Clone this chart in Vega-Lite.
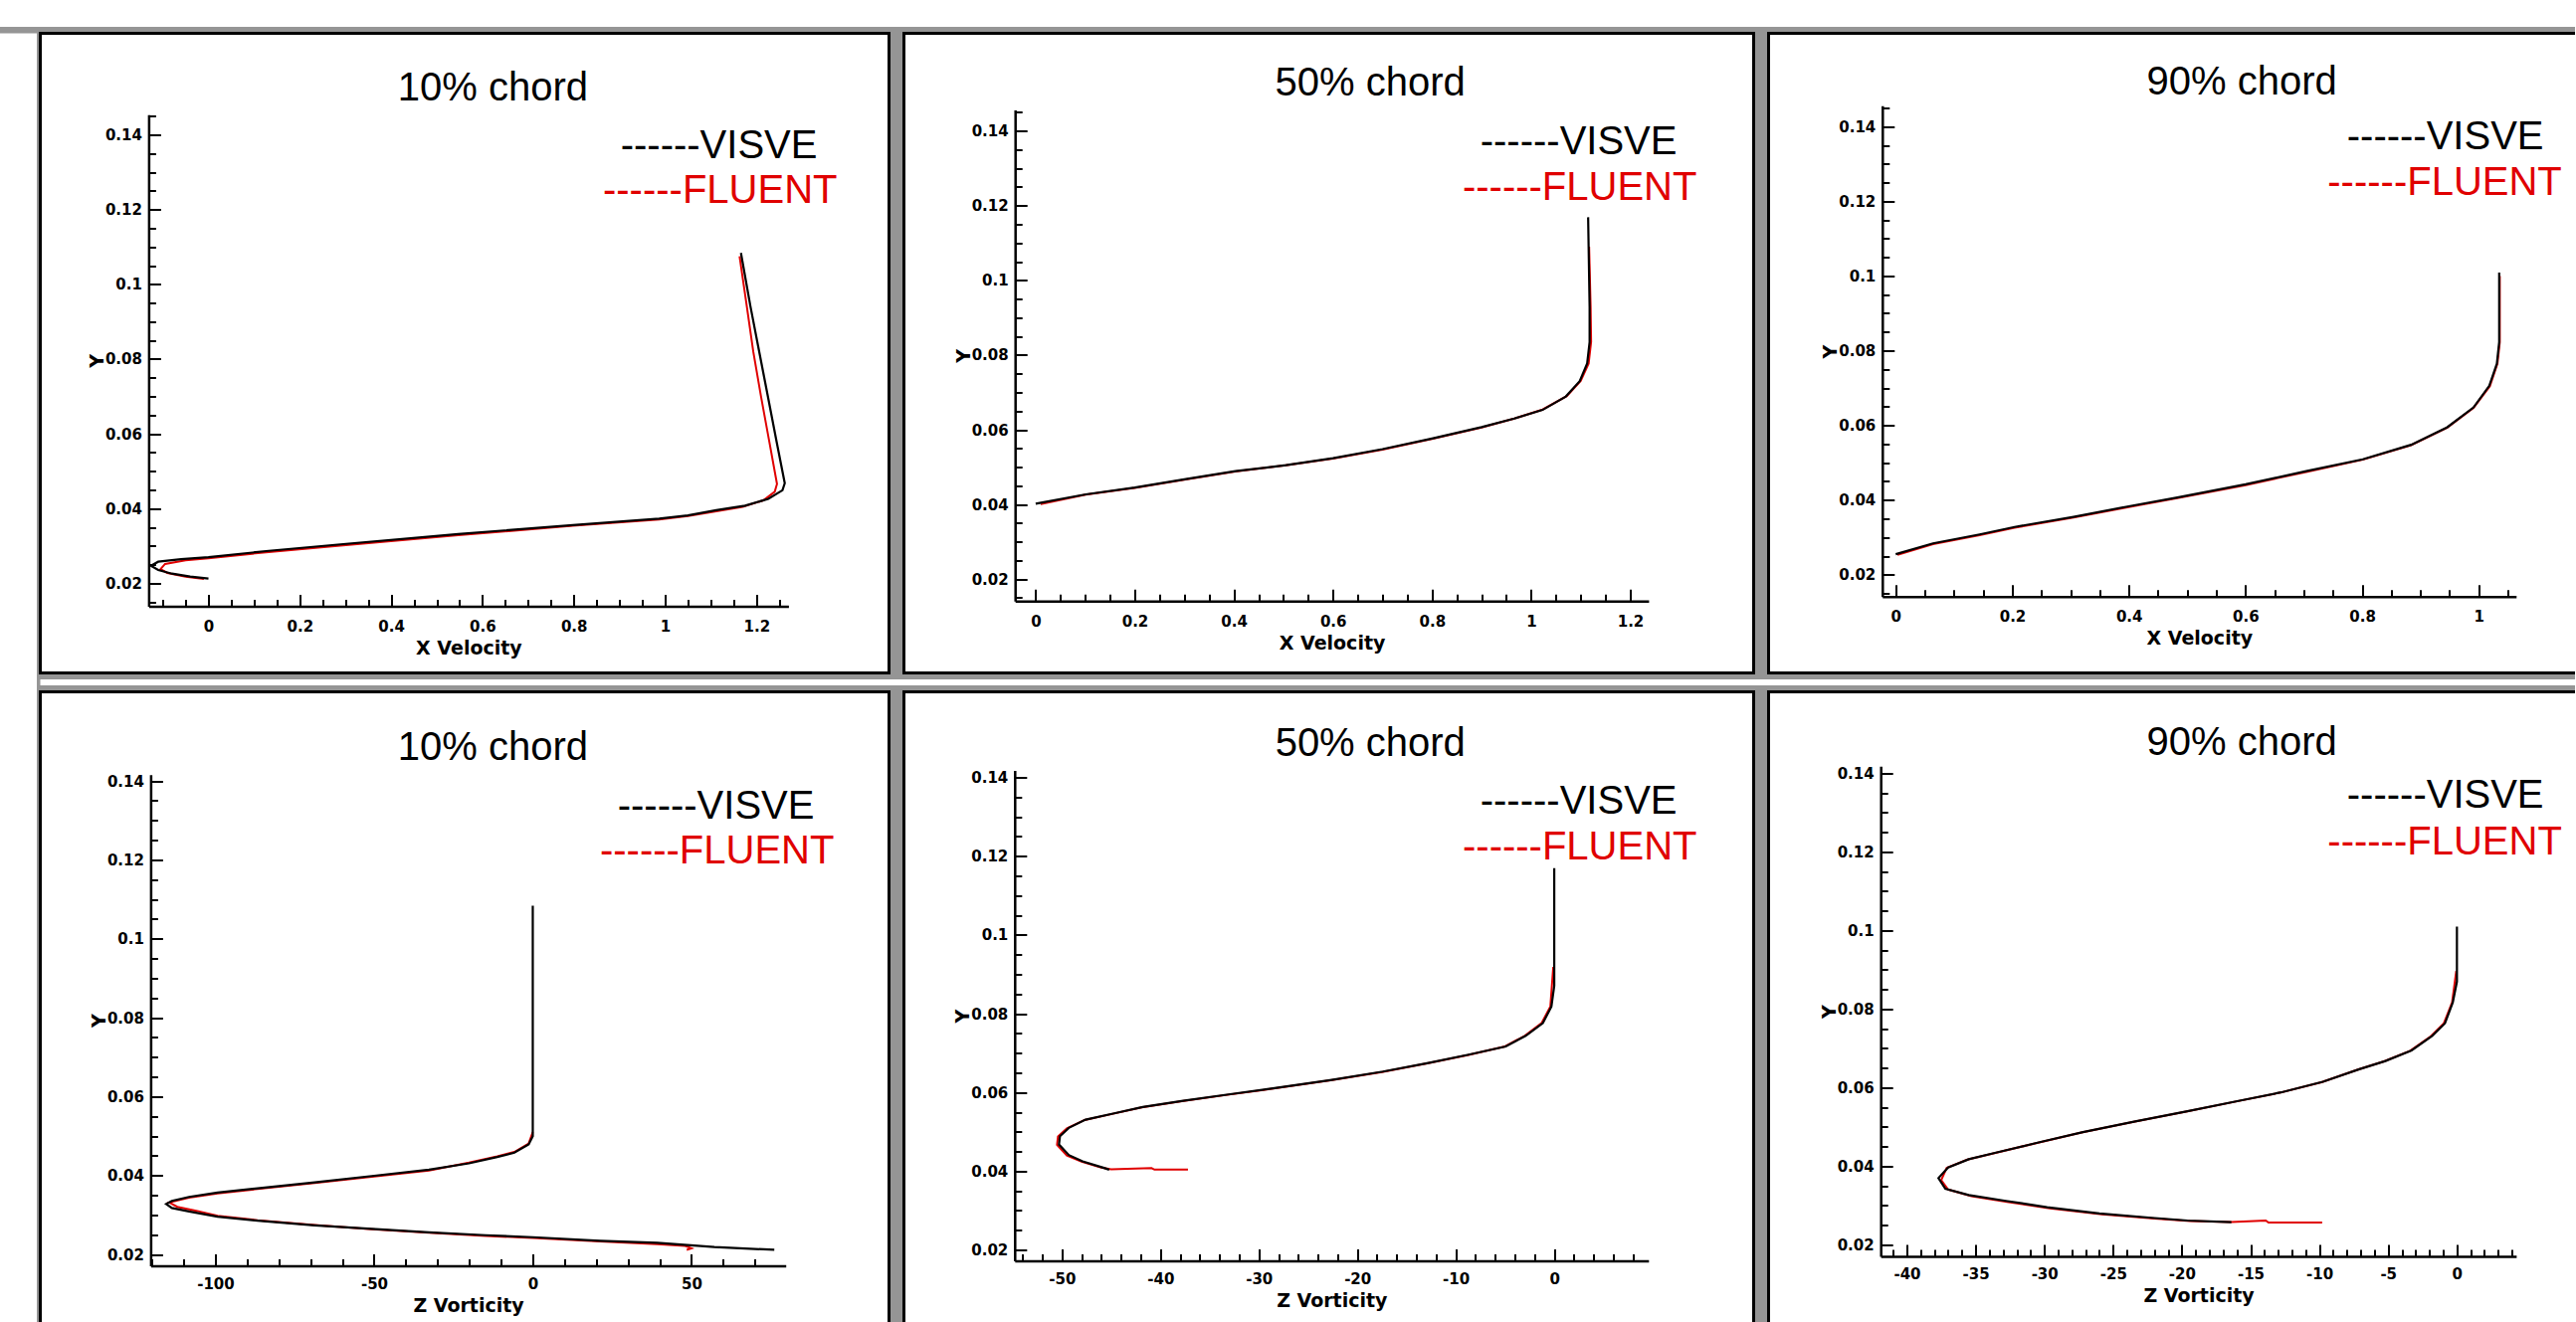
{
  "$schema": "https://vega.github.io/schema/vega-lite/v6.json",
  "background": "#959595",
  "padding": {"left": 0, "top": 0, "right": -11, "bottom": -12},
  "bounds": "full",
  "spacing": 4.5,
  "config": {
    "view": {"fill": "white", "stroke": "black", "strokeWidth": 3},
    "axis": {"grid": false, "domainColor": "black", "domainWidth": 2.5, "tickColor": "black", "tickWidth": 2, "labelColor": "black", "labelFont": "DejaVu Sans", "labelFontWeight": "bold", "labelFontSize": 15, "labelOverlap": false, "labelFlush": false, "labelBound": false, "titleColor": "black", "titleFont": "DejaVu Sans", "titleFontWeight": "bold", "titleFontSize": 19},
    "axisX": {"titlePadding": 0},
    "axisY": {"titlePadding": -2},
    "text": {"font": "Liberation Sans", "fontSize": 40}
  },
  "datasets": {
    "p1": [
      {"s":"VISVE","i":0,"x":0,"y":0.0213},{"s":"VISVE","i":1,"x":-0.04,"y":0.0218},{"s":"VISVE","i":2,"x":-0.08,"y":0.0226},{"s":"VISVE","i":3,"x":-0.11,"y":0.0236},{"s":"VISVE","i":4,"x":-0.126,"y":0.0247},{"s":"VISVE","i":5,"x":-0.11,"y":0.0258},{"s":"VISVE","i":6,"x":-0.06,"y":0.0265},{"s":"VISVE","i":7,"x":0,"y":0.027},{"s":"VISVE","i":8,"x":0.132,"y":0.0287},{"s":"VISVE","i":9,"x":0.295,"y":0.0305},{"s":"VISVE","i":10,"x":0.547,"y":0.0332},{"s":"VISVE","i":11,"x":0.798,"y":0.0356},{"s":"VISVE","i":12,"x":0.987,"y":0.0373},{"s":"VISVE","i":13,"x":1.05,"y":0.0382},{"s":"VISVE","i":14,"x":1.112,"y":0.0396},{"s":"VISVE","i":15,"x":1.175,"y":0.0408},{"s":"VISVE","i":16,"x":1.226,"y":0.0426},{"s":"VISVE","i":17,"x":1.257,"y":0.0449},{"s":"VISVE","i":18,"x":1.262,"y":0.0468},{"s":"VISVE","i":19,"x":1.244,"y":0.058},{"s":"VISVE","i":20,"x":1.225,"y":0.07},{"s":"VISVE","i":21,"x":1.206,"y":0.082},{"s":"VISVE","i":22,"x":1.187,"y":0.094},{"s":"VISVE","i":23,"x":1.166,"y":0.1084},
      {"s":"FLUENT","i":0,"x":-0.01,"y":0.0212},{"s":"FLUENT","i":1,"x":-0.05,"y":0.0218},{"s":"FLUENT","i":2,"x":-0.09,"y":0.0228},{"s":"FLUENT","i":3,"x":-0.105,"y":0.0238},{"s":"FLUENT","i":4,"x":-0.095,"y":0.0252},{"s":"FLUENT","i":5,"x":-0.05,"y":0.0262},{"s":"FLUENT","i":6,"x":0,"y":0.0267},{"s":"FLUENT","i":7,"x":0.132,"y":0.0284},{"s":"FLUENT","i":8,"x":0.295,"y":0.0302},{"s":"FLUENT","i":9,"x":0.547,"y":0.0329},{"s":"FLUENT","i":10,"x":0.798,"y":0.0354},{"s":"FLUENT","i":11,"x":0.987,"y":0.0371},{"s":"FLUENT","i":12,"x":1.05,"y":0.038},{"s":"FLUENT","i":13,"x":1.112,"y":0.0393},{"s":"FLUENT","i":14,"x":1.17,"y":0.0405},{"s":"FLUENT","i":15,"x":1.215,"y":0.0422},{"s":"FLUENT","i":16,"x":1.24,"y":0.0445},{"s":"FLUENT","i":17,"x":1.245,"y":0.0466},{"s":"FLUENT","i":18,"x":1.228,"y":0.058},{"s":"FLUENT","i":19,"x":1.21,"y":0.07},{"s":"FLUENT","i":20,"x":1.193,"y":0.082},{"s":"FLUENT","i":21,"x":1.179,"y":0.094},{"s":"FLUENT","i":22,"x":1.163,"y":0.1075}
    ],
    "p2": [
      {"s":"VISVE","i":0,"x":0,"y":0.0402},{"s":"VISVE","i":1,"x":0.101,"y":0.0427},{"s":"VISVE","i":2,"x":0.2,"y":0.0445},{"s":"VISVE","i":3,"x":0.303,"y":0.0468},{"s":"VISVE","i":4,"x":0.403,"y":0.0489},{"s":"VISVE","i":5,"x":0.505,"y":0.0505},{"s":"VISVE","i":6,"x":0.6,"y":0.0524},{"s":"VISVE","i":7,"x":0.7,"y":0.0548},{"s":"VISVE","i":8,"x":0.802,"y":0.0577},{"s":"VISVE","i":9,"x":0.9,"y":0.0607},{"s":"VISVE","i":10,"x":0.966,"y":0.063},{"s":"VISVE","i":11,"x":1.023,"y":0.0653},{"s":"VISVE","i":12,"x":1.07,"y":0.0689},{"s":"VISVE","i":13,"x":1.098,"y":0.073},{"s":"VISVE","i":14,"x":1.113,"y":0.0777},{"s":"VISVE","i":15,"x":1.118,"y":0.0835},{"s":"VISVE","i":16,"x":1.118,"y":0.0929},{"s":"VISVE","i":17,"x":1.115,"y":0.1169},
      {"s":"FLUENT","i":0,"x":0.01,"y":0.0401},{"s":"FLUENT","i":1,"x":0.101,"y":0.0426},{"s":"FLUENT","i":2,"x":0.2,"y":0.0444},{"s":"FLUENT","i":3,"x":0.303,"y":0.0467},{"s":"FLUENT","i":4,"x":0.403,"y":0.0488},{"s":"FLUENT","i":5,"x":0.505,"y":0.0505},{"s":"FLUENT","i":6,"x":0.6,"y":0.0523},{"s":"FLUENT","i":7,"x":0.7,"y":0.0547},{"s":"FLUENT","i":8,"x":0.802,"y":0.0576},{"s":"FLUENT","i":9,"x":0.9,"y":0.0606},{"s":"FLUENT","i":10,"x":0.966,"y":0.063},{"s":"FLUENT","i":11,"x":1.023,"y":0.0654},{"s":"FLUENT","i":12,"x":1.072,"y":0.069},{"s":"FLUENT","i":13,"x":1.1,"y":0.0731},{"s":"FLUENT","i":14,"x":1.116,"y":0.0777},{"s":"FLUENT","i":15,"x":1.121,"y":0.0835},{"s":"FLUENT","i":16,"x":1.12,"y":0.0929},{"s":"FLUENT","i":17,"x":1.117,"y":0.109}
    ],
    "p3": [
      {"s":"VISVE","i":0,"x":0,"y":0.0255},{"s":"VISVE","i":1,"x":0.064,"y":0.0284},{"s":"VISVE","i":2,"x":0.144,"y":0.0308},{"s":"VISVE","i":3,"x":0.204,"y":0.0328},{"s":"VISVE","i":4,"x":0.305,"y":0.0355},{"s":"VISVE","i":5,"x":0.402,"y":0.0384},{"s":"VISVE","i":6,"x":0.483,"y":0.0407},{"s":"VISVE","i":7,"x":0.6,"y":0.0442},{"s":"VISVE","i":8,"x":0.706,"y":0.0478},{"s":"VISVE","i":9,"x":0.801,"y":0.0509},{"s":"VISVE","i":10,"x":0.884,"y":0.0548},{"s":"VISVE","i":11,"x":0.946,"y":0.0595},{"s":"VISVE","i":12,"x":0.991,"y":0.0648},{"s":"VISVE","i":13,"x":1.018,"y":0.0706},{"s":"VISVE","i":14,"x":1.031,"y":0.0765},{"s":"VISVE","i":15,"x":1.035,"y":0.0823},{"s":"VISVE","i":16,"x":1.035,"y":0.1009},
      {"s":"FLUENT","i":0,"x":0.003,"y":0.0253},{"s":"FLUENT","i":1,"x":0.064,"y":0.0282},{"s":"FLUENT","i":2,"x":0.144,"y":0.0306},{"s":"FLUENT","i":3,"x":0.204,"y":0.0326},{"s":"FLUENT","i":4,"x":0.305,"y":0.0353},{"s":"FLUENT","i":5,"x":0.402,"y":0.0382},{"s":"FLUENT","i":6,"x":0.483,"y":0.0405},{"s":"FLUENT","i":7,"x":0.6,"y":0.044},{"s":"FLUENT","i":8,"x":0.706,"y":0.0476},{"s":"FLUENT","i":9,"x":0.801,"y":0.0508},{"s":"FLUENT","i":10,"x":0.884,"y":0.0547},{"s":"FLUENT","i":11,"x":0.946,"y":0.0594},{"s":"FLUENT","i":12,"x":0.991,"y":0.0647},{"s":"FLUENT","i":13,"x":1.019,"y":0.0705},{"s":"FLUENT","i":14,"x":1.032,"y":0.0765},{"s":"FLUENT","i":15,"x":1.036,"y":0.0823},{"s":"FLUENT","i":16,"x":1.036,"y":0.1}
    ],
    "p4": [
      {"s":"VISVE","i":0,"x":0,"y":0.1084},{"s":"VISVE","i":1,"x":0,"y":0.05},{"s":"VISVE","i":2,"x":-1.3,"y":0.0479},{"s":"VISVE","i":3,"x":-5.8,"y":0.0458},{"s":"VISVE","i":4,"x":-11.2,"y":0.0447},{"s":"VISVE","i":5,"x":-20.1,"y":0.0431},{"s":"VISVE","i":6,"x":-32.7,"y":0.0415},{"s":"VISVE","i":7,"x":-50.7,"y":0.0399},{"s":"VISVE","i":8,"x":-68.7,"y":0.0383},{"s":"VISVE","i":9,"x":-86.7,"y":0.0368},{"s":"VISVE","i":10,"x":-99.3,"y":0.0357},{"s":"VISVE","i":11,"x":-108.3,"y":0.0346},{"s":"VISVE","i":12,"x":-113.7,"y":0.0336},{"s":"VISVE","i":13,"x":-115.5,"y":0.0328},{"s":"VISVE","i":14,"x":-113.7,"y":0.0318},{"s":"VISVE","i":15,"x":-108.3,"y":0.0309},{"s":"VISVE","i":16,"x":-99.3,"y":0.0296},{"s":"VISVE","i":17,"x":-86.7,"y":0.0286},{"s":"VISVE","i":18,"x":-68.7,"y":0.0274},{"s":"VISVE","i":19,"x":-50.7,"y":0.0265},{"s":"VISVE","i":20,"x":-32.7,"y":0.0256},{"s":"VISVE","i":21,"x":-14.8,"y":0.0249},{"s":"VISVE","i":22,"x":0,"y":0.0244},{"s":"VISVE","i":23,"x":21.2,"y":0.0235},{"s":"VISVE","i":24,"x":39.2,"y":0.023},{"s":"VISVE","i":25,"x":57.2,"y":0.0219},{"s":"VISVE","i":26,"x":76.1,"y":0.0212},
      {"s":"FLUENT","i":0,"x":0,"y":0.051},{"s":"FLUENT","i":1,"x":-1.3,"y":0.0481},{"s":"FLUENT","i":2,"x":-5.8,"y":0.046},{"s":"FLUENT","i":3,"x":-11.2,"y":0.0449},{"s":"FLUENT","i":4,"x":-20.1,"y":0.0433},{"s":"FLUENT","i":5,"x":-32.7,"y":0.0413},{"s":"FLUENT","i":6,"x":-50.7,"y":0.0397},{"s":"FLUENT","i":7,"x":-68.7,"y":0.0381},{"s":"FLUENT","i":8,"x":-86.7,"y":0.0366},{"s":"FLUENT","i":9,"x":-99.3,"y":0.0355},{"s":"FLUENT","i":10,"x":-108.3,"y":0.0344},{"s":"FLUENT","i":11,"x":-114.5,"y":0.0332},{"s":"FLUENT","i":12,"x":-112,"y":0.0321},{"s":"FLUENT","i":13,"x":-106,"y":0.0311},{"s":"FLUENT","i":14,"x":-99.3,"y":0.0298},{"s":"FLUENT","i":15,"x":-86.7,"y":0.0287},{"s":"FLUENT","i":16,"x":-68.7,"y":0.0275},{"s":"FLUENT","i":17,"x":-50.7,"y":0.0264},{"s":"FLUENT","i":18,"x":-32.7,"y":0.0255},{"s":"FLUENT","i":19,"x":-14.8,"y":0.0247},{"s":"FLUENT","i":20,"x":0,"y":0.0242},{"s":"FLUENT","i":21,"x":21.2,"y":0.0233},{"s":"FLUENT","i":22,"x":39.2,"y":0.0226},{"s":"FLUENT","i":23,"x":48,"y":0.0222},{"s":"FLUENT","i":24,"x":50,"y":0.0216},{"s":"FLUENT","i":25,"x":48.5,"y":0.0212}
    ],
    "p5": [
      {"s":"VISVE","i":0,"x":0,"y":0.117},{"s":"VISVE","i":1,"x":0,"y":0.0871},{"s":"VISVE","i":2,"x":-0.29,"y":0.0818},{"s":"VISVE","i":3,"x":-1.16,"y":0.0776},{"s":"VISVE","i":4,"x":-2.9,"y":0.0744},{"s":"VISVE","i":5,"x":-4.93,"y":0.0717},{"s":"VISVE","i":6,"x":-8.7,"y":0.0696},{"s":"VISVE","i":7,"x":-12.8,"y":0.0675},{"s":"VISVE","i":8,"x":-17.4,"y":0.0653},{"s":"VISVE","i":9,"x":-22.6,"y":0.0632},{"s":"VISVE","i":10,"x":-28.4,"y":0.0611},{"s":"VISVE","i":11,"x":-33.1,"y":0.0595},{"s":"VISVE","i":12,"x":-37.7,"y":0.0579},{"s":"VISVE","i":13,"x":-41.8,"y":0.0563},{"s":"VISVE","i":14,"x":-44.7,"y":0.0547},{"s":"VISVE","i":15,"x":-47.6,"y":0.0531},{"s":"VISVE","i":16,"x":-49.3,"y":0.051},{"s":"VISVE","i":17,"x":-50.2,"y":0.0489},{"s":"VISVE","i":18,"x":-50.3,"y":0.0468},{"s":"VISVE","i":19,"x":-49.3,"y":0.0441},{"s":"VISVE","i":20,"x":-47.9,"y":0.0425},{"s":"VISVE","i":21,"x":-45.8,"y":0.0409},{"s":"VISVE","i":22,"x":-45.2,"y":0.0404},
      {"s":"FLUENT","i":0,"x":-0.1,"y":0.0919},{"s":"FLUENT","i":1,"x":-0.4,"y":0.0818},{"s":"FLUENT","i":2,"x":-1.3,"y":0.0776},{"s":"FLUENT","i":3,"x":-3,"y":0.0744},{"s":"FLUENT","i":4,"x":-5,"y":0.0717},{"s":"FLUENT","i":5,"x":-8.8,"y":0.0695},{"s":"FLUENT","i":6,"x":-12.9,"y":0.0674},{"s":"FLUENT","i":7,"x":-17.5,"y":0.0652},{"s":"FLUENT","i":8,"x":-22.7,"y":0.0631},{"s":"FLUENT","i":9,"x":-28.5,"y":0.061},{"s":"FLUENT","i":10,"x":-33.2,"y":0.0594},{"s":"FLUENT","i":11,"x":-37.8,"y":0.0578},{"s":"FLUENT","i":12,"x":-41.9,"y":0.0562},{"s":"FLUENT","i":13,"x":-44.8,"y":0.0546},{"s":"FLUENT","i":14,"x":-47.7,"y":0.053},{"s":"FLUENT","i":15,"x":-49.5,"y":0.0509},{"s":"FLUENT","i":16,"x":-50.4,"y":0.0488},{"s":"FLUENT","i":17,"x":-50.5,"y":0.0467},{"s":"FLUENT","i":18,"x":-49.5,"y":0.044},{"s":"FLUENT","i":19,"x":-48,"y":0.0424},{"s":"FLUENT","i":20,"x":-46,"y":0.0409},{"s":"FLUENT","i":21,"x":-45,"y":0.0405},{"s":"FLUENT","i":22,"x":-40.9,"y":0.0408},{"s":"FLUENT","i":23,"x":-40.6,"y":0.0404},{"s":"FLUENT","i":24,"x":-37.2,"y":0.0404}
    ],
    "p6": [
      {"s":"VISVE","i":0,"x":0,"y":0.101},{"s":"VISVE","i":1,"x":0,"y":0.087},{"s":"VISVE","i":2,"x":-0.3,"y":0.0817},{"s":"VISVE","i":3,"x":-0.87,"y":0.0764},{"s":"VISVE","i":4,"x":-1.8,"y":0.0732},{"s":"VISVE","i":5,"x":-3.3,"y":0.0695},{"s":"VISVE","i":6,"x":-5.2,"y":0.0668},{"s":"VISVE","i":7,"x":-7.1,"y":0.0647},{"s":"VISVE","i":8,"x":-9.75,"y":0.0615},{"s":"VISVE","i":9,"x":-12.8,"y":0.0588},{"s":"VISVE","i":10,"x":-15.8,"y":0.0567},{"s":"VISVE","i":11,"x":-19.6,"y":0.054},{"s":"VISVE","i":12,"x":-23.4,"y":0.0514},{"s":"VISVE","i":13,"x":-27.2,"y":0.0487},{"s":"VISVE","i":14,"x":-30.5,"y":0.046},{"s":"VISVE","i":15,"x":-33.6,"y":0.0434},{"s":"VISVE","i":16,"x":-35.5,"y":0.0418},{"s":"VISVE","i":17,"x":-37,"y":0.0397},{"s":"VISVE","i":18,"x":-37.7,"y":0.037},{"s":"VISVE","i":19,"x":-37.2,"y":0.0343},{"s":"VISVE","i":20,"x":-35.5,"y":0.0327},{"s":"VISVE","i":21,"x":-32.8,"y":0.0312},{"s":"VISVE","i":22,"x":-29.8,"y":0.0296},{"s":"VISVE","i":23,"x":-26,"y":0.028},{"s":"VISVE","i":24,"x":-22.2,"y":0.0269},{"s":"VISVE","i":25,"x":-19.6,"y":0.0262},{"s":"VISVE","i":26,"x":-16.4,"y":0.0258},
      {"s":"FLUENT","i":0,"x":-0.05,"y":0.0897},{"s":"FLUENT","i":1,"x":-0.35,"y":0.0817},{"s":"FLUENT","i":2,"x":-0.95,"y":0.0764},{"s":"FLUENT","i":3,"x":-1.9,"y":0.0731},{"s":"FLUENT","i":4,"x":-3.4,"y":0.0694},{"s":"FLUENT","i":5,"x":-5.3,"y":0.0667},{"s":"FLUENT","i":6,"x":-7.2,"y":0.0646},{"s":"FLUENT","i":7,"x":-9.85,"y":0.0614},{"s":"FLUENT","i":8,"x":-12.9,"y":0.0587},{"s":"FLUENT","i":9,"x":-15.9,"y":0.0566},{"s":"FLUENT","i":10,"x":-19.7,"y":0.0539},{"s":"FLUENT","i":11,"x":-23.5,"y":0.0513},{"s":"FLUENT","i":12,"x":-27.3,"y":0.0486},{"s":"FLUENT","i":13,"x":-30.6,"y":0.0459},{"s":"FLUENT","i":14,"x":-33.7,"y":0.0433},{"s":"FLUENT","i":15,"x":-35.6,"y":0.0417},{"s":"FLUENT","i":16,"x":-37.1,"y":0.0396},{"s":"FLUENT","i":17,"x":-37.5,"y":0.0365},{"s":"FLUENT","i":18,"x":-37,"y":0.0341},{"s":"FLUENT","i":19,"x":-35.3,"y":0.0324},{"s":"FLUENT","i":20,"x":-32.6,"y":0.0309},{"s":"FLUENT","i":21,"x":-29.6,"y":0.0293},{"s":"FLUENT","i":22,"x":-25.8,"y":0.0278},{"s":"FLUENT","i":23,"x":-22,"y":0.0267},{"s":"FLUENT","i":24,"x":-19.4,"y":0.0261},{"s":"FLUENT","i":25,"x":-16.4,"y":0.0258},{"s":"FLUENT","i":26,"x":-13.9,"y":0.0262},{"s":"FLUENT","i":27,"x":-13.7,"y":0.0257},{"s":"FLUENT","i":28,"x":-9.8,"y":0.0257}
    ]
  },
  "vconcat": [
    {"width": 2589, "height": 27, "view": {"fill": "white", "stroke": null}, "data": {"values": []}, "mark": "point", "encoding": {}},
    {
      "spacing": 1.5, "bounds": "full",
      "hconcat": [
        {"width": 37, "height": 1306, "view": {"fill": "white", "stroke": null}, "data": {"values": []}, "mark": "point", "encoding": {}},
        {
          "spacing": 4.5, "bounds": "full",
          "vconcat": [
            {
              "spacing": 15, "bounds": "flush",
              "hconcat": [
                {
                  "width": 853, "height": 643,
                  "data": {"name": "p1"},
                  "encoding": {
                    "x": {"field": "x", "type": "quantitative", "scale": {"domain": [-0.131, 1.27], "range": [108.9, 751.9], "nice": false, "zero": false},
                      "axis": {"title": "X Velocity", "offset": -67.1, "values": [-0.1,-0.05,0,0.05,0.1,0.15,0.2,0.25,0.3,0.35,0.4,0.45,0.5,0.55,0.6,0.65,0.7,0.75,0.8,0.85,0.9,0.95,1,1.05,1.1,1.15,1.2,1.25],
                        "tickSize": {"condition": {"test": "indexof([0,0.2,0.4,0.6,0.8,1,1.2], datum.value) >= 0", "value": -12}, "value": -7},
                        "labelPadding": 25, "labelExpr": "indexof([0,0.2,0.4,0.6,0.8,1,1.2], datum.value) >= 0 ? '' + datum.value : ''"}},
                    "y": {"field": "y", "type": "quantitative", "scale": {"domain": [0.0139, 0.1454], "range": [575.9, 81.7], "nice": false, "zero": false},
                      "axis": {"title": "Y", "offset": -108.9, "values": [0.015,0.02,0.025,0.03,0.035,0.04,0.045,0.05,0.055,0.06,0.065,0.07,0.075,0.08,0.085,0.09,0.095,0.1,0.105,0.11,0.115,0.12,0.125,0.13,0.135,0.14,0.145],
                        "tickSize": {"condition": {"test": "indexof([0.02,0.04,0.06,0.08,0.1,0.12,0.14], datum.value) >= 0", "value": -12}, "value": -7},
                        "labelPadding": 19, "labelExpr": "indexof([0.02,0.04,0.06,0.08,0.1,0.12,0.14], datum.value) >= 0 ? '' + datum.value : ''"}}
                  },
                  "layer": [
                    {"transform": [{"filter": "datum.s === 'FLUENT'"}], "mark": {"type": "line", "color": "#e00000", "strokeWidth": 2}, "encoding": {"order": {"field": "i"}}},
                    {"transform": [{"filter": "datum.s === 'VISVE'"}], "mark": {"type": "line", "color": "black", "strokeWidth": 2.2}, "encoding": {"order": {"field": "i"}}},
                    {"transform": [{"filter": "datum.s === 'VISVE' && datum.i === 0"}], "mark": {"type": "text", "text": "10% chord", "align": "center", "baseline": "alphabetic", "color": "black"}, "encoding": {"x": {"datum": 0.623, "type": "quantitative"}, "y": {"datum": 0.1492, "type": "quantitative"}}},
                    {"transform": [{"filter": "datum.s === 'VISVE' && datum.i === 0"}], "mark": {"type": "text", "text": "------VISVE", "align": "right", "baseline": "alphabetic", "color": "black"}, "encoding": {"x": {"datum": 1.3333, "type": "quantitative"}, "y": {"datum": 0.13367, "type": "quantitative"}}},
                    {"transform": [{"filter": "datum.s === 'FLUENT' && datum.i === 0"}], "mark": {"type": "text", "text": "------FLUENT", "align": "right", "baseline": "alphabetic", "color": "#e00000"}, "encoding": {"x": {"datum": 1.3769, "type": "quantitative"}, "y": {"datum": 0.12164, "type": "quantitative"}}}
                  ]
                },
                {
                  "width": 854, "height": 643,
                  "data": {"name": "p2"},
                  "encoding": {
                    "x": {"field": "x", "type": "quantitative", "scale": {"domain": [-0.0416, 1.237], "range": [111.7, 748.4], "nice": false, "zero": false},
                      "axis": {"title": "X Velocity", "offset": -72.3, "values": [0,0.05,0.1,0.15,0.2,0.25,0.3,0.35,0.4,0.45,0.5,0.55,0.6,0.65,0.7,0.75,0.8,0.85,0.9,0.95,1,1.05,1.1,1.15,1.2],
                        "tickSize": {"condition": {"test": "indexof([0,0.2,0.4,0.6,0.8,1,1.2], datum.value) >= 0", "value": -12}, "value": -7},
                        "labelPadding": 25, "labelExpr": "indexof([0,0.2,0.4,0.6,0.8,1,1.2], datum.value) >= 0 ? '' + datum.value : ''"}},
                    "y": {"field": "y", "type": "quantitative", "scale": {"domain": [0.01414, 0.1456], "range": [570.7, 77.1], "nice": false, "zero": false},
                      "axis": {"title": "Y", "offset": -111.7, "values": [0.015,0.02,0.025,0.03,0.035,0.04,0.045,0.05,0.055,0.06,0.065,0.07,0.075,0.08,0.085,0.09,0.095,0.1,0.105,0.11,0.115,0.12,0.125,0.13,0.135,0.14,0.145],
                        "tickSize": {"condition": {"test": "indexof([0.02,0.04,0.06,0.08,0.1,0.12,0.14], datum.value) >= 0", "value": -12}, "value": -7},
                        "labelPadding": 19, "labelExpr": "indexof([0.02,0.04,0.06,0.08,0.1,0.12,0.14], datum.value) >= 0 ? '' + datum.value : ''"}}
                  },
                  "layer": [
                    {"transform": [{"filter": "datum.s === 'FLUENT'"}], "mark": {"type": "line", "color": "#e00000", "strokeWidth": 2}, "encoding": {"order": {"field": "i"}}},
                    {"transform": [{"filter": "datum.s === 'VISVE'"}], "mark": {"type": "line", "color": "black", "strokeWidth": 2.2}, "encoding": {"order": {"field": "i"}}},
                    {"transform": [{"filter": "datum.s === 'VISVE' && datum.i === 0"}], "mark": {"type": "text", "text": "50% chord", "align": "center", "baseline": "alphabetic", "color": "black"}, "encoding": {"x": {"datum": 0.6753, "type": "quantitative"}, "y": {"datum": 0.14937, "type": "quantitative"}}},
                    {"transform": [{"filter": "datum.s === 'VISVE' && datum.i === 0"}], "mark": {"type": "text", "text": "------VISVE", "align": "right", "baseline": "alphabetic", "color": "black"}, "encoding": {"x": {"datum": 1.2944, "type": "quantitative"}, "y": {"datum": 0.1339, "type": "quantitative"}}},
                    {"transform": [{"filter": "datum.s === 'FLUENT' && datum.i === 0"}], "mark": {"type": "text", "text": "------FLUENT", "align": "right", "baseline": "alphabetic", "color": "#e00000"}, "encoding": {"x": {"datum": 1.3345, "type": "quantitative"}, "y": {"datum": 0.12165, "type": "quantitative"}}}
                  ]
                },
                {
                  "width": 820, "height": 643,
                  "data": {"name": "p3"},
                  "encoding": {
                    "x": {"field": "x", "type": "quantitative", "scale": {"domain": [-0.023, 1.064], "range": [114.3, 751.3], "nice": false, "zero": false},
                      "axis": {"title": "X Velocity", "offset": -76.7, "values": [0,0.05,0.1,0.15,0.2,0.25,0.3,0.35,0.4,0.45,0.5,0.55,0.6,0.65,0.7,0.75,0.8,0.85,0.9,0.95,1,1.05],
                        "tickSize": {"condition": {"test": "indexof([0,0.2,0.4,0.6,0.8,1], datum.value) >= 0", "value": -12}, "value": -7},
                        "labelPadding": 25, "labelExpr": "indexof([0,0.2,0.4,0.6,0.8,1], datum.value) >= 0 ? '' + datum.value : ''"}},
                    "y": {"field": "y", "type": "quantitative", "scale": {"domain": [0.01414, 0.1456], "range": [566.3, 72.7], "nice": false, "zero": false},
                      "axis": {"title": "Y", "offset": -114.3, "values": [0.015,0.02,0.025,0.03,0.035,0.04,0.045,0.05,0.055,0.06,0.065,0.07,0.075,0.08,0.085,0.09,0.095,0.1,0.105,0.11,0.115,0.12,0.125,0.13,0.135,0.14,0.145],
                        "tickSize": {"condition": {"test": "indexof([0.02,0.04,0.06,0.08,0.1,0.12,0.14], datum.value) >= 0", "value": -12}, "value": -7},
                        "labelPadding": 19, "labelExpr": "indexof([0.02,0.04,0.06,0.08,0.1,0.12,0.14], datum.value) >= 0 ? '' + datum.value : ''"}}
                  },
                  "layer": [
                    {"transform": [{"filter": "datum.s === 'FLUENT'"}], "mark": {"type": "line", "color": "#e00000", "strokeWidth": 2}, "encoding": {"order": {"field": "i"}}},
                    {"transform": [{"filter": "datum.s === 'VISVE'"}], "mark": {"type": "line", "color": "black", "strokeWidth": 2.2}, "encoding": {"order": {"field": "i"}}},
                    {"transform": [{"filter": "datum.s === 'VISVE' && datum.i === 0"}], "mark": {"type": "text", "text": "90% chord", "align": "center", "baseline": "alphabetic", "color": "black"}, "encoding": {"x": {"datum": 0.5935, "type": "quantitative"}, "y": {"datum": 0.14855, "type": "quantitative"}}},
                    {"transform": [{"filter": "datum.s === 'VISVE' && datum.i === 0"}], "mark": {"type": "text", "text": "------VISVE", "align": "right", "baseline": "alphabetic", "color": "black"}, "encoding": {"x": {"datum": 1.1113, "type": "quantitative"}, "y": {"datum": 0.1339, "type": "quantitative"}}},
                    {"transform": [{"filter": "datum.s === 'FLUENT' && datum.i === 0"}], "mark": {"type": "text", "text": "------FLUENT", "align": "right", "baseline": "alphabetic", "color": "#e00000"}, "encoding": {"x": {"datum": 1.1425, "type": "quantitative"}, "y": {"datum": 0.1216, "type": "quantitative"}}}
                  ]
                }
              ]
            },
            {"width": 2549, "height": 6, "view": {"fill": "white", "stroke": null}, "data": {"values": []}, "mark": "point", "encoding": {}},
            {
              "spacing": 15, "bounds": "flush",
              "hconcat": [
                {
                  "width": 853, "height": 645,
                  "data": {"name": "p4"},
                  "encoding": {
                    "x": {"field": "x", "type": "quantitative", "scale": {"domain": [-120.4, 79.7], "range": [110.9, 749.2], "nice": false, "zero": false},
                      "axis": {"title": "Z Vorticity", "offset": -68, "values": [-120,-110,-100,-90,-80,-70,-60,-50,-40,-30,-20,-10,0,10,20,30,40,50,60,70],
                        "tickSize": {"condition": {"test": "indexof([-100,-50,0,50], datum.value) >= 0", "value": -12}, "value": -7},
                        "labelPadding": 23, "labelExpr": "indexof([-100,-50,0,50], datum.value) >= 0 ? '' + datum.value : ''"}},
                    "y": {"field": "y", "type": "quantitative", "scale": {"domain": [0.01715, 0.1416], "range": [577, 83.2], "nice": false, "zero": false},
                      "axis": {"title": "Y", "offset": -110.9, "values": [0.02,0.025,0.03,0.035,0.04,0.045,0.05,0.055,0.06,0.065,0.07,0.075,0.08,0.085,0.09,0.095,0.1,0.105,0.11,0.115,0.12,0.125,0.13,0.135,0.14],
                        "tickSize": {"condition": {"test": "indexof([0.02,0.04,0.06,0.08,0.1,0.12,0.14], datum.value) >= 0", "value": -12}, "value": -7},
                        "labelPadding": 19, "labelExpr": "indexof([0.02,0.04,0.06,0.08,0.1,0.12,0.14], datum.value) >= 0 ? '' + datum.value : ''"}}
                  },
                  "layer": [
                    {"transform": [{"filter": "datum.s === 'FLUENT'"}], "mark": {"type": "line", "color": "#e00000", "strokeWidth": 2}, "encoding": {"order": {"field": "i"}}},
                    {"transform": [{"filter": "datum.s === 'VISVE'"}], "mark": {"type": "line", "color": "black", "strokeWidth": 2.2}, "encoding": {"order": {"field": "i"}}},
                    {"transform": [{"filter": "datum.s === 'VISVE' && datum.i === 0"}], "mark": {"type": "text", "text": "10% chord", "align": "center", "baseline": "alphabetic", "color": "black"}, "encoding": {"x": {"datum": -12.54, "type": "quantitative"}, "y": {"datum": 0.14529, "type": "quantitative"}}},
                    {"transform": [{"filter": "datum.s === 'VISVE' && datum.i === 0"}], "mark": {"type": "text", "text": "------VISVE", "align": "right", "baseline": "alphabetic", "color": "black"}, "encoding": {"x": {"datum": 88.71, "type": "quantitative"}, "y": {"datum": 0.13047, "type": "quantitative"}}},
                    {"transform": [{"filter": "datum.s === 'FLUENT' && datum.i === 0"}], "mark": {"type": "text", "text": "------FLUENT", "align": "right", "baseline": "alphabetic", "color": "#e00000"}, "encoding": {"x": {"datum": 94.98, "type": "quantitative"}, "y": {"datum": 0.11903, "type": "quantitative"}}}
                  ]
                },
                {
                  "width": 854, "height": 645,
                  "data": {"name": "p5"},
                  "encoding": {
                    "x": {"field": "x", "type": "quantitative", "scale": {"domain": [-54.8, 9.57], "range": [111.3, 748.3], "nice": false, "zero": false},
                      "axis": {"title": "Z Vorticity", "offset": -73, "values": [-54,-52,-50,-48,-46,-44,-42,-40,-38,-36,-34,-32,-30,-28,-26,-24,-22,-20,-18,-16,-14,-12,-10,-8,-6,-4,-2,0,2,4,6,8],
                        "tickSize": {"condition": {"test": "indexof([-50,-40,-30,-20,-10,0], datum.value) >= 0", "value": -12}, "value": -7},
                        "labelPadding": 23, "labelExpr": "indexof([-50,-40,-30,-20,-10,0], datum.value) >= 0 ? '' + datum.value : ''"}},
                    "y": {"field": "y", "type": "quantitative", "scale": {"domain": [0.01724, 0.1418], "range": [572, 79], "nice": false, "zero": false},
                      "axis": {"title": "Y", "offset": -111.3, "values": [0.02,0.025,0.03,0.035,0.04,0.045,0.05,0.055,0.06,0.065,0.07,0.075,0.08,0.085,0.09,0.095,0.1,0.105,0.11,0.115,0.12,0.125,0.13,0.135,0.14],
                        "tickSize": {"condition": {"test": "indexof([0.02,0.04,0.06,0.08,0.1,0.12,0.14], datum.value) >= 0", "value": -12}, "value": -7},
                        "labelPadding": 19, "labelExpr": "indexof([0.02,0.04,0.06,0.08,0.1,0.12,0.14], datum.value) >= 0 ? '' + datum.value : ''"}}
                  },
                  "layer": [
                    {"transform": [{"filter": "datum.s === 'FLUENT'"}], "mark": {"type": "line", "color": "#e00000", "strokeWidth": 2}, "encoding": {"order": {"field": "i"}}},
                    {"transform": [{"filter": "datum.s === 'VISVE'"}], "mark": {"type": "line", "color": "black", "strokeWidth": 2.2}, "encoding": {"order": {"field": "i"}}},
                    {"transform": [{"filter": "datum.s === 'VISVE' && datum.i === 0"}], "mark": {"type": "text", "text": "50% chord", "align": "center", "baseline": "alphabetic", "color": "black"}, "encoding": {"x": {"datum": -18.68, "type": "quantitative"}, "y": {"datum": 0.14551, "type": "quantitative"}}},
                    {"transform": [{"filter": "datum.s === 'VISVE' && datum.i === 0"}], "mark": {"type": "text", "text": "------VISVE", "align": "right", "baseline": "alphabetic", "color": "black"}, "encoding": {"x": {"datum": 12.47, "type": "quantitative"}, "y": {"datum": 0.13085, "type": "quantitative"}}},
                    {"transform": [{"filter": "datum.s === 'FLUENT' && datum.i === 0"}], "mark": {"type": "text", "text": "------FLUENT", "align": "right", "baseline": "alphabetic", "color": "#e00000"}, "encoding": {"x": {"datum": 14.49, "type": "quantitative"}, "y": {"datum": 0.11918, "type": "quantitative"}}}
                  ]
                },
                {
                  "width": 820, "height": 645,
                  "data": {"name": "p6"},
                  "encoding": {
                    "x": {"field": "x", "type": "quantitative", "scale": {"domain": [-41.9, 4.31], "range": [112.7, 751.4], "nice": false, "zero": false},
                      "axis": {"title": "Z Vorticity", "offset": -77.6, "values": [-41,-40,-39,-38,-37,-36,-35,-34,-33,-32,-31,-30,-29,-28,-27,-26,-25,-24,-23,-22,-21,-20,-19,-18,-17,-16,-15,-14,-13,-12,-11,-10,-9,-8,-7,-6,-5,-4,-3,-2,-1,0,1,2,3,4],
                        "tickSize": {"condition": {"test": "indexof([-40,-35,-30,-25,-20,-15,-10,-5,0], datum.value) >= 0", "value": -12}, "value": -7},
                        "labelPadding": 23, "labelExpr": "indexof([-40,-35,-30,-25,-20,-15,-10,-5,0], datum.value) >= 0 ? '' + datum.value : ''"}},
                    "y": {"field": "y", "type": "quantitative", "scale": {"domain": [0.01711, 0.1418], "range": [567.4, 74.8], "nice": false, "zero": false},
                      "axis": {"title": "Y", "offset": -112.7, "values": [0.02,0.025,0.03,0.035,0.04,0.045,0.05,0.055,0.06,0.065,0.07,0.075,0.08,0.085,0.09,0.095,0.1,0.105,0.11,0.115,0.12,0.125,0.13,0.135,0.14],
                        "tickSize": {"condition": {"test": "indexof([0.02,0.04,0.06,0.08,0.1,0.12,0.14], datum.value) >= 0", "value": -12}, "value": -7},
                        "labelPadding": 19, "labelExpr": "indexof([0.02,0.04,0.06,0.08,0.1,0.12,0.14], datum.value) >= 0 ? '' + datum.value : ''"}}
                  },
                  "layer": [
                    {"transform": [{"filter": "datum.s === 'FLUENT'"}], "mark": {"type": "line", "color": "#e00000", "strokeWidth": 2}, "encoding": {"order": {"field": "i"}}},
                    {"transform": [{"filter": "datum.s === 'VISVE'"}], "mark": {"type": "line", "color": "black", "strokeWidth": 2.2}, "encoding": {"order": {"field": "i"}}},
                    {"transform": [{"filter": "datum.s === 'VISVE' && datum.i === 0"}], "mark": {"type": "text", "text": "90% chord", "align": "center", "baseline": "alphabetic", "color": "black"}, "encoding": {"x": {"datum": -15.64, "type": "quantitative"}, "y": {"datum": 0.14468, "type": "quantitative"}}},
                    {"transform": [{"filter": "datum.s === 'VISVE' && datum.i === 0"}], "mark": {"type": "text", "text": "------VISVE", "align": "right", "baseline": "alphabetic", "color": "black"}, "encoding": {"x": {"datum": 6.31, "type": "quantitative"}, "y": {"datum": 0.13117, "type": "quantitative"}}},
                    {"transform": [{"filter": "datum.s === 'FLUENT' && datum.i === 0"}], "mark": {"type": "text", "text": "------FLUENT", "align": "right", "baseline": "alphabetic", "color": "#e00000"}, "encoding": {"x": {"datum": 7.634, "type": "quantitative"}, "y": {"datum": 0.11947, "type": "quantitative"}}}
                  ]
                }
              ]
            }
          ]
        }
      ]
    }
  ]
}
